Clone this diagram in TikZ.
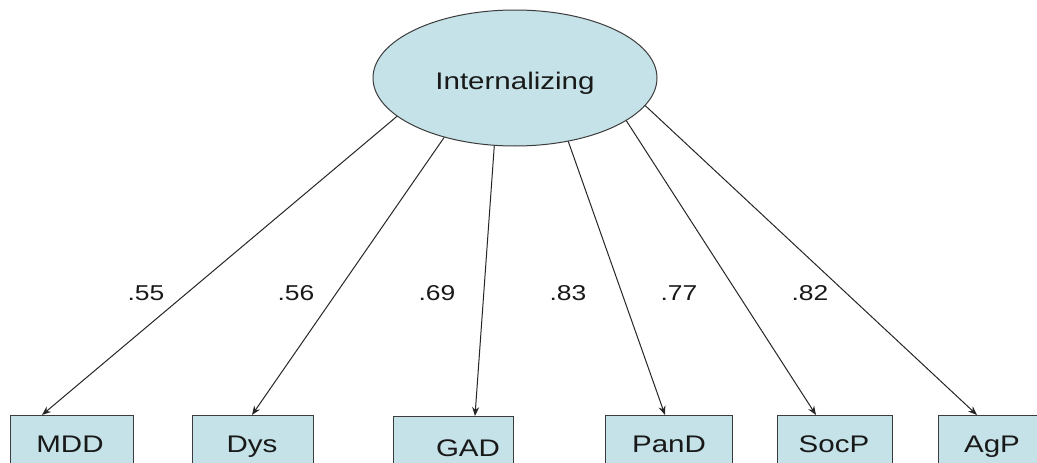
\documentclass[tikz,border=0pt]{standalone}
\usepackage{fontspec}
\setmainfont{Liberation Sans}[FakeStretch=1.23]
\usetikzlibrary{shapes.geometric,arrows.meta,calc}
\definecolor{boxfill}{RGB}{196,226,231}
\definecolor{edge}{RGB}{60,60,60}
\definecolor{ink}{RGB}{25,25,25}
\begin{document}
\begin{tikzpicture}[x=1pt,y=-1pt,
  obs/.style={draw=edge,line width=1pt,fill=boxfill,rectangle,inner sep=0pt,anchor=north west},
  lat/.style={draw=edge,line width=1pt,fill=boxfill,ellipse,inner sep=0pt,minimum width=284pt,minimum height=136pt},
  txt/.style={font=\fontsize{24}{28}\selectfont,text=ink,anchor=base,inner sep=0pt},
  lbl/.style={font=\fontsize{21.5}{26}\selectfont,text=ink,anchor=base,inner sep=0pt},
  path/.style={draw=black!85,line width=1pt,-{Stealth[length=9pt,width=7pt]}}]
\useasboundingbox (0,0) rectangle (1037,463);
\clip (0,0) rectangle (1037,463);
\fill[white] (0,0) rectangle (1037,463);
% latent
\node[lat] (int) at (515,78) {};
\node[txt] (inttxt) at (515,89) {Internalizing};
% observed boxes
\node[obs,minimum width=123pt,minimum height=70pt] (mdd) at (10,415) {};
\node[obs,minimum width=121pt,minimum height=70pt] (dys) at (192,415) {};
\node[obs,minimum width=120pt,minimum height=70pt] (gad) at (393,416) {};
\node[obs,minimum width=127pt,minimum height=70pt] (pand) at (605,415) {};
\node[obs,minimum width=115pt,minimum height=70pt] (socp) at (777,415) {};
\node[obs,minimum width=110pt,minimum height=70pt] (agp) at (938,415) {};
\node[txt] (mddt) at (70,452) {MDD};
\node[txt] (dyst) at (252,452) {Dys};
\node[txt] (gadt) at (468,456) {GAD};
\node[txt] (pandt) at (669,452) {PanD};
\node[txt] (socpt) at (834,452) {SocP};
\node[txt] (agpt) at (992,452) {AgP};
% paths
\draw[path] (int.198.6) -- ($(mdd.north west)+(32,0)$);
\draw[path] (int.220.7) -- ($(dys.north west)+(60,0)$);
\draw[path] (int.253.6) -- ($(gad.north west)+(82,0)$);
\draw[path] (int.310) -- ($(pand.north west)+(60,0)$);
\draw[path] (int.339.9) -- ($(socp.north west)+(39,0)$);
\draw[path] (int.348.4) -- ($(agp.north west)+(39,0)$);
% loadings
\node[lbl] (l1) at (146,300) {.55};
\node[lbl] (l2) at (296,300) {.56};
\node[lbl] (l3) at (437,300) {.69};
\node[lbl] (l4) at (568,300) {.83};
\node[lbl] (l5) at (679,300) {.77};
\node[lbl] (l6) at (810,300) {.82};
\end{tikzpicture}
\end{document}
